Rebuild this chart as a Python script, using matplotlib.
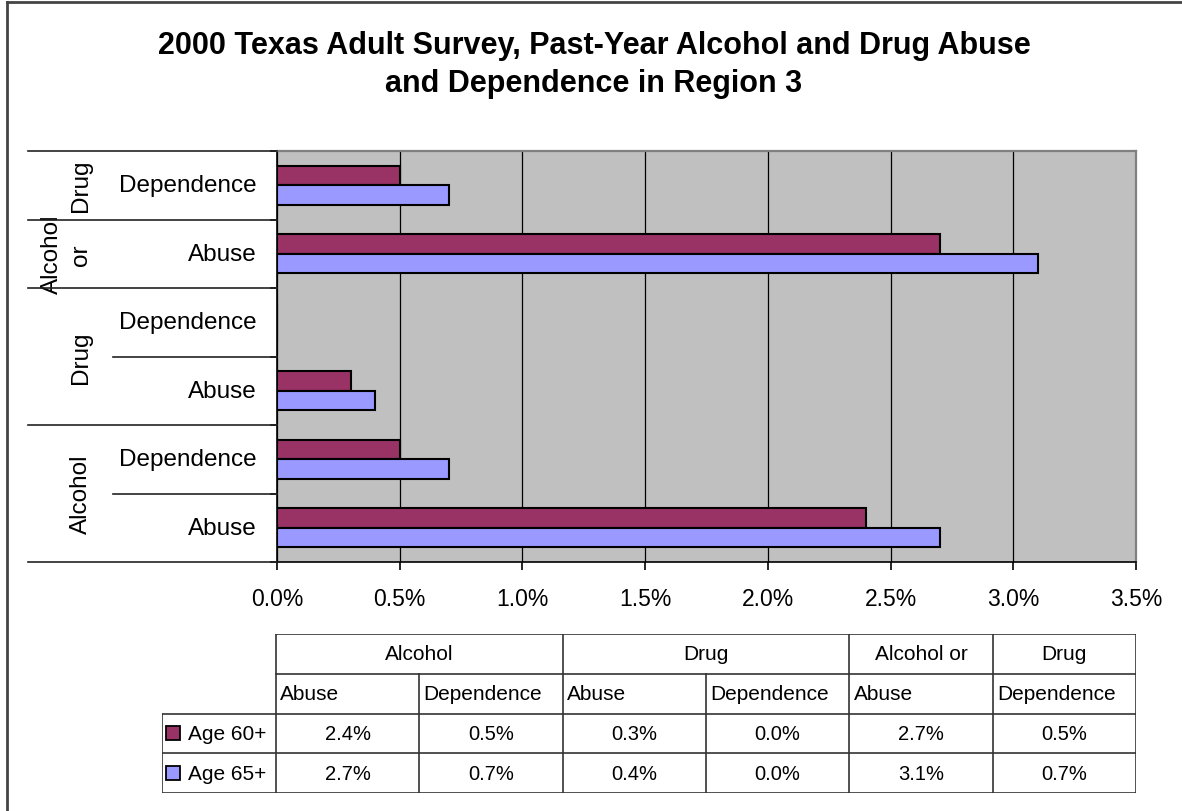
import numpy as np
import matplotlib
matplotlib.use("Agg")
import matplotlib.pyplot as plt
import matplotlib.transforms as mtransforms
from matplotlib.lines import Line2D
from matplotlib.ticker import FuncFormatter

plt.rcParams["font.family"] = ["Liberation Sans", "DejaVu Sans"]

# data, bottom category first
sub_labels = ["Abuse", "Dependence", "Abuse", "Dependence", "Abuse", "Dependence"]
group_labels = ["Alcohol", "Alcohol", "Drug", "Drug", "Alcohol or", "Drug"]
series_names = ["Age 60+", "Age 65+"]
age60 = [2.4, 0.5, 0.3, 0.0, 2.7, 0.5]
age65 = [2.7, 0.7, 0.4, 0.0, 3.1, 0.7]
x_ticks = [0.0, 0.5, 1.0, 1.5, 2.0, 2.5, 3.0, 3.5]

title = ("2000 Texas Adult Survey, Past-Year Alcohol and Drug Abuse\n"
         "and Dependence in Region 3")
colors = ["#993366", "#9999FF"]

W, H = 1182, 812
fig = plt.figure(figsize=(W / 100, H / 100), dpi=100)

# main bar chart
ax = fig.add_axes([277 / W, 1 - 563 / H, (1136 - 277) / W, (563 - 152) / H])
ax.set_facecolor("#C0C0C0")
y = np.arange(len(sub_labels))
bar_h = 1 / 3.5
ax.barh(y + bar_h / 2, age60, height=bar_h, color=colors[0],
        edgecolor="black", linewidth=1.5, zorder=3)
ax.barh(y - bar_h / 2, age65, height=bar_h, color=colors[1],
        edgecolor="black", linewidth=1.5, zorder=3)
ax.set_xlim(0, 3.5)
ax.set_ylim(-0.5, len(sub_labels) - 0.5)
ax.set_xticks(x_ticks)
ax.xaxis.set_major_formatter(FuncFormatter(lambda v, p: f"{v:.1f}%"))
ax.set_yticks(np.arange(-0.5, len(sub_labels), 1))
ax.set_yticklabels([])
ax.tick_params(axis="x", labelsize=16.5, length=6, width=1.2, pad=12, direction="out")
ax.tick_params(axis="y", length=5, width=1.2, direction="out")
ax.grid(axis="x", color="black", linewidth=0.9, zorder=1)
ax.set_axisbelow(True)
for s in ["left", "bottom"]:
    ax.spines[s].set_color("black")
    ax.spines[s].set_linewidth(1.2)
for s in ["top", "right"]:
    ax.spines[s].set_color("#808080")
    ax.spines[s].set_linewidth(1.6)

# two-level category labels on the left
trans = mtransforms.blended_transform_factory(fig.transFigure, ax.transData)
for yi, lab in zip(y, sub_labels):
    ax.text(257 / W, yi, lab, transform=trans, ha="right", va="center", fontsize=17.5)

groups = []
start = 0
for i in range(1, len(group_labels) + 1):
    if i == len(group_labels) or group_labels[i] != group_labels[start]:
        groups.append((start, i - 1, group_labels[start]))
        start = i
for g0, g1, lab in groups:
    ax.text(92 / W, (g0 + g1) / 2, lab.replace(" ", "\n"), transform=trans,
            rotation=90, ha="right", va="center", multialignment="center",
            fontsize=17.5, linespacing=1.4)

outer_edges = {g0 - 0.5 for g0, g1, _ in groups} | {g1 + 0.5 for g0, g1, _ in groups}
for b in np.arange(-0.5, len(sub_labels), 1):
    x0 = 28 / W if b in outer_edges else 113 / W
    fig.add_artist(Line2D([x0, 277 / W], [b, b], transform=trans,
                          color="#222222", linewidth=1.2))

# data table below the chart
tab = fig.add_axes([162 / W, 1 - 794 / H, (1136 - 162) / W, (794 - 635) / H])
tab.axis("off")
lw = 114 / ((1136 - 276) / 6)
ncol = len(sub_labels)
tab.set_xlim(0, lw + ncol)
tab.set_ylim(0, 4)
lc = "#333333"
tab.plot([lw, lw + ncol], [4, 4], color=lc, lw=1.2)
tab.plot([lw, lw + ncol], [3, 3], color=lc, lw=1.2)
for yy in [2, 1, 0]:
    tab.plot([0, lw + ncol], [yy, yy], color=lc, lw=1.2)
tab.plot([0, 0], [0, 2], color=lc, lw=1.2)
tab.plot([lw, lw], [0, 4], color=lc, lw=1.2)
for g0, g1, lab in groups:
    tab.plot([lw + g1 + 1] * 2, [0, 4], color=lc, lw=1.2)
    tab.text(lw + (g0 + g1 + 1) / 2, 3.5, lab, ha="center", va="center", fontsize=15)
    for c in range(g0, g1):
        tab.plot([lw + c + 1] * 2, [0, 3], color=lc, lw=1.2)
for c, lab in enumerate(sub_labels):
    tab.text(lw + c + 0.03, 2.5, lab, ha="left", va="center", fontsize=15)
for r, (name, vals, col) in enumerate(zip(series_names, [age60, age65], colors)):
    yy = 1.5 - r
    tab.plot(0.08, yy, marker="s", ms=9.5, mfc=col, mec="black", mew=1.3)
    tab.text(0.18, yy, name, ha="left", va="center", fontsize=15)
    for c, v in enumerate(vals):
        tab.text(lw + c + 0.5, yy, f"{v:.1f}%", ha="center", va="center", fontsize=14.5)

fig.text(594 / W, 1 - 31 / H, title, ha="center", va="top", fontsize=22,
         fontweight="bold", linespacing=1.33)

# chart frame (top and left visible)
fig.add_artist(Line2D([7 / W, 1], [1 - 3 / H, 1 - 3 / H], transform=fig.transFigure,
                      color="#444444", linewidth=2))
fig.add_artist(Line2D([7 / W, 7 / W], [0, 1 - 3 / H], transform=fig.transFigure,
                      color="#444444", linewidth=2))

fig.savefig("out.png", dpi=100)
